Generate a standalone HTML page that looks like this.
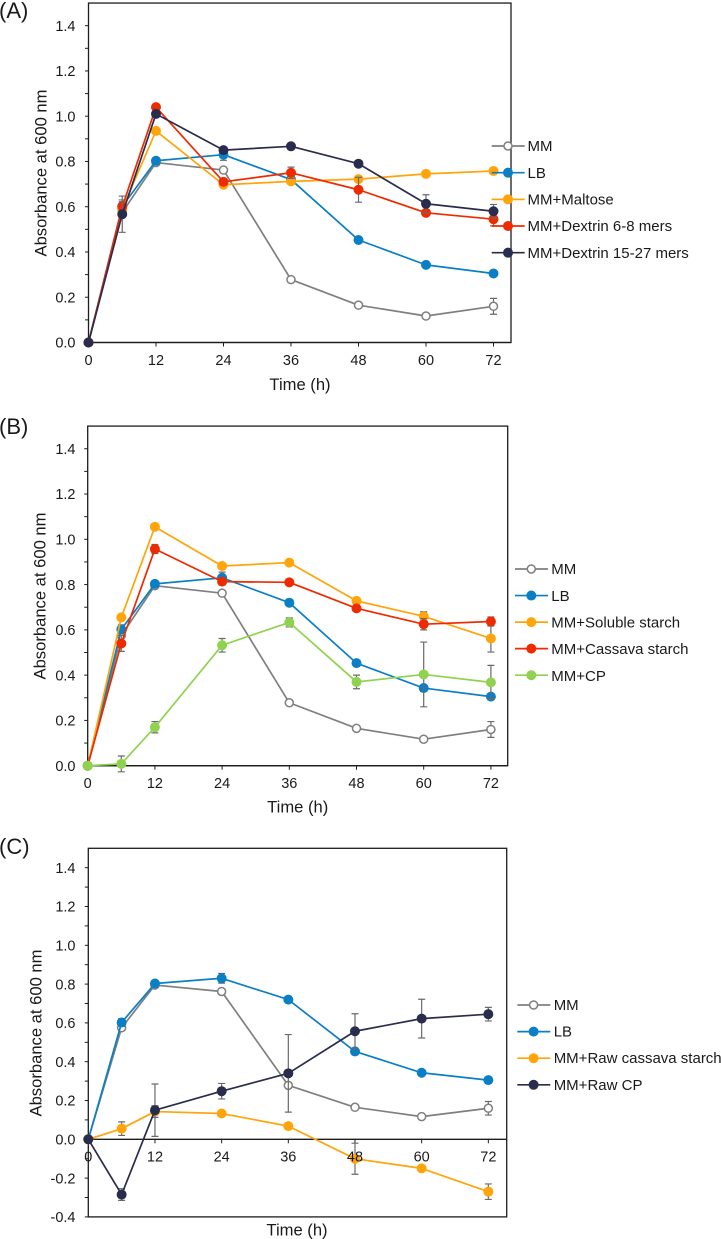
<!DOCTYPE html>
<html lang="en">
<head>
<meta charset="utf-8">
<title>Absorbance at 600 nm over time</title>
<style>
html,body{margin:0;padding:0;background:#fff;}
svg{display:block;font-family:"Liberation Sans",Arial,sans-serif;fill:#1a1a1a;}
.tick{font-size:14.5px;}
.title{font-size:16.6px;}
.legend{font-size:15px;}
.panel{font-size:22px;}
</style>
</head>
<body>
<svg id="figure" xmlns="http://www.w3.org/2000/svg" width="721" height="1239" viewBox="0 0 721 1239">
  <g id="panel-a"></g>
  <g id="panel-b"></g>
  <g id="panel-c"></g>

  <text class="panel" x="-1" y="18">(A)</text>
  <text class="title" transform="translate(46.5,173) rotate(-90)" text-anchor="middle">Absorbance at 600 nm</text>
  <text class="title" x="300" y="390" text-anchor="middle">Time (h)</text>
  <g>
    <text class="legend" x="527.5" y="151.2">MM</text>
    <text class="legend" x="527.5" y="177.9">LB</text>
    <text class="legend" x="527.5" y="204.5">MM+Maltose</text>
    <text class="legend" x="527.5" y="231.2">MM+Dextrin 6-8 mers</text>
    <text class="legend" x="527.5" y="257.9">MM+Dextrin 15-27 mers</text>
  </g>

  <text class="panel" x="-1" y="434">(B)</text>
  <text class="title" transform="translate(45.5,596) rotate(-90)" text-anchor="middle">Absorbance at 600 nm</text>
  <text class="title" x="297.7" y="812.7" text-anchor="middle">Time (h)</text>
  <g>
    <text class="legend" x="551.3" y="574.2">MM</text>
    <text class="legend" x="551.3" y="600.9">LB</text>
    <text class="legend" x="551.3" y="627.5">MM+Soluble starch</text>
    <text class="legend" x="551.3" y="654.2">MM+Cassava starch</text>
    <text class="legend" x="551.3" y="680.9">MM+CP</text>
  </g>

  <text class="panel" x="-1" y="854">(C)</text>
  <text class="title" transform="translate(41.5,1033) rotate(-90)" text-anchor="middle">Absorbance at 600 nm</text>
  <text class="title" x="297" y="1235.5" text-anchor="middle">Time (h)</text>
  <g>
    <text class="legend" x="553.7" y="1010.2">MM</text>
    <text class="legend" x="553.7" y="1036.7">LB</text>
    <text class="legend" x="553.7" y="1063.2">MM+Raw cassava starch</text>
    <text class="legend" x="553.7" y="1089.9">MM+Raw CP</text>
  </g>
</svg>

<script>
// Shared categories and tick labels
const hours = [0, 6, 12, 24, 36, 48, 60, 72];
const xTickHours = [0, 12, 24, 36, 48, 60, 72];
const yTicksAB = [0.0, 0.2, 0.4, 0.6, 0.8, 1.0, 1.2, 1.4];
const yTicksC = [-0.4, -0.2, 0.0, 0.2, 0.4, 0.6, 0.8, 1.0, 1.2, 1.4];

// Series shared by all panels
const mmValues = [0, 0.575, 0.795, 0.762, 0.278, 0.165, 0.117, 0.160];
const mmErrors = [0, 0.010, 0.008, 0.010, 0.008, 0.008, 0.008, 0.035];
const lbValues = [0, 0.602, 0.803, 0.830, 0.720, 0.453, 0.343, 0.305];
const lbErrors = [0, 0.020, 0.010, 0.025, 0.010, 0.008, 0.008, 0.008];

// Panel A
const maltoseValues = [0, 0.590, 0.935, 0.697, 0.712, 0.722, 0.745, 0.758];
const maltoseErrors = [0, 0.020, 0.010, 0.010, 0.010, 0.010, 0.010, 0.010];
const dextrin68Values = [0, 0.600, 1.040, 0.710, 0.750, 0.675, 0.573, 0.545];
const dextrin68Errors = [0, 0.030, 0.010, 0.010, 0.025, 0.055, 0.010, 0.030];
const dextrin1527Values = [0, 0.567, 1.010, 0.850, 0.867, 0.790, 0.613, 0.580];
const dextrin1527Errors = [0, 0.080, 0.010, 0.010, 0.010, 0.010, 0.040, 0.030];

// Panel B
const solubleValues = [0, 0.655, 1.055, 0.882, 0.897, 0.728, 0.660, 0.562];
const solubleErrors = [0, 0.010, 0.010, 0.010, 0.010, 0.010, 0.020, 0.060];
const cassavaValues = [0, 0.540, 0.957, 0.813, 0.810, 0.695, 0.625, 0.637];
const cassavaErrors = [0, 0.035, 0.020, 0.010, 0.010, 0.010, 0.025, 0.020];
const cpValues = [0, 0.008, 0.170, 0.532, 0.633, 0.370, 0.403, 0.368];
const cpErrors = [0, 0.035, 0.025, 0.030, 0.020, 0.030, 0.143, 0.075];

// Panel C
const rawCassavaValues = [0, 0.055, 0.143, 0.133, 0.068, -0.100, -0.150, -0.270];
const rawCassavaErrors = [0, 0.035, 0.030, 0.010, 0.010, 0.080, 0.010, 0.040];
const rawCpValues = [0, -0.285, 0.150, 0.248, 0.340, 0.557, 0.622, 0.645];
const rawCpErrors = [0, 0.030, 0.135, 0.040, 0.200, 0.090, 0.100, 0.035];

const GRAY = '#7f7f7f', BLUE = '#0a7fc6', ORANGE = '#ffa40a', RED = '#ee2a00', NAVY = '#2a2c4e', GREEN = '#8fd24f';
const NS = 'http://www.w3.org/2000/svg';

function make(parent, tag, attrs) {
  const node = document.createElementNS(NS, tag);
  for (const key in attrs) node.setAttribute(key, attrs[key]);
  parent.appendChild(node);
  return node;
}

function drawPanel(cfg) {
  const root = document.getElementById(cfg.id);
  const xScale = h => cfg.x0 + h * cfg.xPerHour;
  const yScale = v => cfg.y0 - v * cfg.yPerUnit;
  const yTop = yScale(1.5);
  const yBottom = yScale(cfg.yMin);

  // frame and axes
  const axes = make(root, 'g', {stroke: '#1c1c1c', 'stroke-width': 1.3, fill: 'none'});
  
  
  make(axes, 'rect', {x: cfg.x0, y: yTop, width: cfg.xRight - cfg.x0, height: yBottom - yTop});
  make(axes, 'line', {x1: cfg.x0, x2: cfg.xRight, y1: cfg.y0, y2: cfg.y0});

  const stepCount = Math.round((1.4 - cfg.yMin) * 10);
  for (let i = 0; i <= stepCount; i++) {
    const v = cfg.yMin + i * 0.1;
    make(axes, 'line', {x1: cfg.x0 - 3.5, x2: cfg.x0, y1: yScale(v), y2: yScale(v), 'stroke-width': 1});
  }
  xTickHours.forEach(h => {
    make(axes, 'line', {x1: xScale(h), x2: xScale(h), y1: cfg.y0, y2: cfg.y0 + 4, 'stroke-width': 1});
  });

  // series
  cfg.series.forEach(s => {
    const group = make(root, 'g', {});
    
    

    s.errors.forEach((e, i) => {
      if (e <= 0) return;
      const x = xScale(hours[i]);
      const hi = yScale(s.values[i] + e);
      const lo = yScale(s.values[i] - e);
      const bar = make(group, 'path', {
        d: 'M' + (x - 3.5) + ' ' + hi + 'H' + (x + 3.5) + 'M' + x + ' ' + hi + 'V' + lo + 'M' + (x - 3.5) + ' ' + lo + 'H' + (x + 3.5),
        stroke: '#6a6a6a', 'stroke-width': 1.2, fill: 'none'
      });
      
      
    });

    const line = make(group, 'polyline', {
      points: s.values.map((v, i) => xScale(hours[i]) + ',' + yScale(v)).join(' '),
      fill: 'none', stroke: s.color, 'stroke-width': 1.7, 'stroke-linejoin': 'round'
    });
    
    

    s.values.forEach((v, i) => {
      const point = make(group, 'circle', s.open
        ? {cx: xScale(hours[i]), cy: yScale(v), r: 4, fill: '#fff', stroke: s.color, 'stroke-width': 1.5}
        : {cx: xScale(hours[i]), cy: yScale(v), r: 5, fill: s.color});
      
      
    });
  });

  // tick labels on top of the marks
  const labels = make(root, 'g', {});
  
  
  cfg.yTicks.forEach(v => {
    const t = make(labels, 'text', {class: 'tick', x: 75.5, y: yScale(v) + 5.2, 'text-anchor': 'end'});
    t.textContent = v.toFixed(1);
    
    
  });
  xTickHours.forEach(h => {
    const t = make(labels, 'text', {class: 'tick', x: xScale(h), y: cfg.xLabelY, 'text-anchor': 'middle'});
    t.textContent = String(h);
    
    
  });

  // legend keys
  const keys = make(root, 'g', {});
  
  
  cfg.series.forEach((s, i) => {
    const y = cfg.legendY + i * cfg.legendStep;
    make(keys, 'line', {x1: cfg.legendX, x2: cfg.legendX + 33, y1: y, y2: y, stroke: s.color, 'stroke-width': 1.7});
    const mark = make(keys, 'circle', s.open
      ? {cx: cfg.legendX + 16.3, cy: y, r: 4, fill: '#fff', stroke: s.color, 'stroke-width': 1.5}
      : {cx: cfg.legendX + 16.3, cy: y, r: 5, fill: s.color});
    
    
  });
}

const mmSeries = {key: 'mm', color: GRAY, open: true, values: mmValues, errors: mmErrors};
const lbSeries = {key: 'lb', color: BLUE, open: false, values: lbValues, errors: lbErrors};

drawPanel({
  id: 'panel-a', x0: 88.5, xRight: 511, xPerHour: 5.625, y0: 342.5, yPerUnit: 226.3, yMin: 0,
  yTicks: yTicksAB, xLabelY: 365, legendX: 491.7, legendY: 146, legendStep: 26.67,
  series: [
    mmSeries, lbSeries,
    {key: 'maltose', color: ORANGE, values: maltoseValues, errors: maltoseErrors},
    {key: 'dextrin-6-8', color: RED, values: dextrin68Values, errors: dextrin68Errors},
    {key: 'dextrin-15-27', color: NAVY, values: dextrin1527Values, errors: dextrin1527Errors}
  ]
});

drawPanel({
  id: 'panel-b', x0: 87.7, xRight: 507.7, xPerHour: 5.6, y0: 765.7, yPerUnit: 226.4, yMin: 0,
  yTicks: yTicksAB, xLabelY: 788, legendX: 515, legendY: 569, legendStep: 26.55,
  series: [
    mmSeries, lbSeries,
    {key: 'soluble-starch', color: ORANGE, values: solubleValues, errors: solubleErrors},
    {key: 'cassava-starch', color: RED, values: cassavaValues, errors: cassavaErrors},
    {key: 'cp', color: GREEN, values: cpValues, errors: cpErrors}
  ]
});

drawPanel({
  id: 'panel-c', x0: 88.3, xRight: 506.7, xPerHour: 5.556, y0: 1139.3, yPerUnit: 194, yMin: -0.4,
  yTicks: yTicksC, xLabelY: 1161.5, legendX: 517.3, legendY: 1005, legendStep: 26.6,
  series: [
    mmSeries, lbSeries,
    {key: 'raw-cassava-starch', color: ORANGE, values: rawCassavaValues, errors: rawCassavaErrors},
    {key: 'raw-cp', color: NAVY, values: rawCpValues, errors: rawCpErrors}
  ]
});
</script>
</body>
</html>
